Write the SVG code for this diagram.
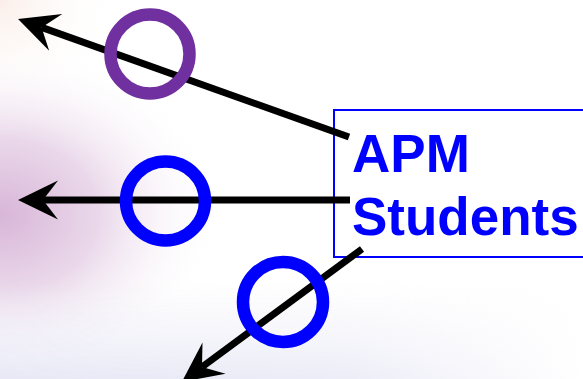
<svg xmlns="http://www.w3.org/2000/svg" width="583" height="379" viewBox="0 0 583 379">
  <defs>
    <radialGradient id="haze" cx="0" cy="215" r="1" gradientUnits="userSpaceOnUse" gradientTransform="translate(0 215) scale(220 170) translate(0 -215)">
      <stop offset="0" stop-color="#d8b6d8"/>
      <stop offset="0.45" stop-color="#ead8ea"/>
      <stop offset="1" stop-color="#ffffff" stop-opacity="0"/>
    </radialGradient>
    <radialGradient id="peach" cx="0" cy="0" r="120" gradientUnits="userSpaceOnUse">
      <stop offset="0" stop-color="#fbeee9"/>
      <stop offset="1" stop-color="#ffffff" stop-opacity="0"/>
    </radialGradient>
    <linearGradient id="floor" x1="0" y1="280" x2="0" y2="379" gradientUnits="userSpaceOnUse">
      <stop offset="0" stop-color="#eeeef8" stop-opacity="0"/>
      <stop offset="1" stop-color="#e8e8f6"/>
    </linearGradient>
    <linearGradient id="floorFade" x1="0" y1="0" x2="583" y2="0" gradientUnits="userSpaceOnUse">
      <stop offset="0" stop-color="#fff" stop-opacity="1"/>
      <stop offset="0.6" stop-color="#fff" stop-opacity="0.8"/>
      <stop offset="1" stop-color="#fff" stop-opacity="0"/>
    </linearGradient>
    <mask id="floorMask">
      <rect x="0" y="0" width="583" height="379" fill="url(#floorFade)"/>
    </mask>
    <marker id="head" markerUnits="userSpaceOnUse" markerWidth="40" markerHeight="40" viewBox="0 0 40 40" refX="15" refY="20" orient="auto" overflow="visible">
      <path d="M0,0.5 L40,20 L0,39.5 L15,20 Z" fill="#000"/>
    </marker>
    <style>
      .conn { stroke: #000; stroke-width: 7; fill: none; marker-end: url(#head); }
      .ring { fill: none; stroke-width: 12.5; }
      .label { font-family: "Liberation Sans", Arial, sans-serif; font-weight: bold; font-size: 53px; fill: #0000ff; }
    </style>
  </defs>

  <rect x="0" y="0" width="583" height="379" fill="#ffffff"/>
  <rect x="0" y="0" width="583" height="379" fill="url(#peach)"/>
  <rect x="0" y="0" width="583" height="379" fill="url(#haze)"/>
  <rect x="0" y="270" width="583" height="109" fill="url(#floor)" mask="url(#floorMask)"/>

  <g id="apm-students">
    <rect x="334" y="110" width="260" height="147" fill="none" stroke="#0000ff" stroke-width="2"/>
    <text class="label" x="352" y="172">APM</text>
    <text class="label" x="352" y="235">Students</text>
  </g>

  <g id="connectors">
    <line class="conn" x1="349" y1="137" x2="41.6" y2="27.4"/>
    <line class="conn" x1="350" y1="200" x2="43" y2="200"/>
    <line class="conn" x1="362" y1="249" x2="202" y2="367"/>
  </g>

  <g id="ring-top">
    <circle class="ring" cx="150" cy="54" r="39.5" stroke="#7030a0"/>
  </g>
  <g id="ring-middle">
    <circle class="ring" cx="165.5" cy="201" r="39.5" stroke="#0000ff"/>
  </g>
  <g id="ring-bottom">
    <circle class="ring" cx="283" cy="302" r="40" stroke="#0000ff"/>
  </g>
</svg>
